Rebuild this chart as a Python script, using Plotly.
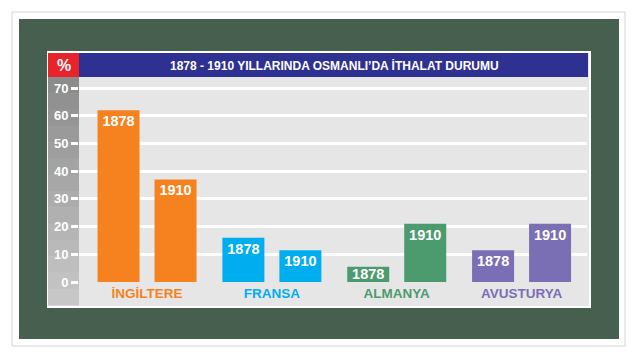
import plotly.graph_objects as go

# ---- data ----
categories = ["İNGİLTERE", "FRANSA", "ALMANYA", "AVUSTURYA"]
values_1878 = [62, 16, 5.5, 11.5]
values_1910 = [37, 11.5, 21, 21]
year_labels = ["1878", "1910"]
cat_colors = ["#f5821f", "#00aeef", "#4c9b6e", "#7a6eb5"]
y_ticks = [0, 10, 20, 30, 40, 50, 60, 70]
title_text = "1878 - 1910 YILLARINDA OSMANLI’DA İTHALAT DURUMU"

# ---- geometry (page pixels; the page body has an 8px margin) ----
OFF = 8
W, H = 638 - OFF, 359 - OFF
L, R, T, B = 79, 587, 77, 283
PW, PH = R - L, B - T


def xp(px):
    return (px - L) / PW


def yp(py):
    return (B - py) / PH


FONT = "Liberation Sans, Arial, sans-serif"
TXT = dict(family=FONT, size=14.5, color="white", weight="bold")
SMALL = 8  # bars shorter than this get their label centred

fig = go.Figure()
for yl, vals in zip(year_labels, [values_1878, values_1910]):
    fig.add_trace(go.Bar(
        x=categories, y=vals, name=yl, offsetgroup=yl,
        marker=dict(color=cat_colors, line=dict(width=0)),
        text=[yl if v >= SMALL else "" for v in vals],
        textposition="inside", insidetextanchor="end",
        constraintext="none", textfont=TXT,
        hoverinfo="skip",
    ))
    small = [(c, v) for c, v in zip(categories, vals) if v < SMALL]
    if small:
        fig.add_trace(go.Bar(
            x=[c for c, _ in small], y=[v for _, v in small], name=yl,
            offsetgroup=yl,
            marker=dict(color="rgba(0,0,0,0)", line=dict(width=0)),
            text=[yl] * len(small),
            textposition="inside", insidetextanchor="middle",
            constraintext="none", textfont=TXT,
            hoverinfo="skip",
        ))

shapes = []
# outer light frame
shapes.append(dict(type="rect", xref="paper", yref="paper",
                   x0=xp(12), x1=xp(625), y0=yp(346), y1=yp(12),
                   fillcolor="white", line=dict(color="#d4d4d4", width=1), layer="below"))
# dark green panel
shapes.append(dict(type="rect", xref="paper", yref="paper",
                   x0=xp(19), x1=xp(619), y0=yp(339), y1=yp(19),
                   fillcolor="#475f4f", line=dict(width=0), layer="below"))
# chart light area with white border
shapes.append(dict(type="rect", xref="paper", yref="paper",
                   x0=xp(48), x1=xp(590), y0=yp(307), y1=yp(52),
                   fillcolor="#e6e6e6", line=dict(color="white", width=2), layer="below"))
# gray gradient strip
n = 14
top, bot = 77, 305
c0, c1 = 0x8a, 0xc9
for i in range(n):
    ya = top + (bot - top) * i / n
    yb = top + (bot - top) * (i + 1) / n
    c = int(round(c0 + (c1 - c0) * (i + 0.5) / n))
    col = "#%02x%02x%02x" % (c, c, c)
    shapes.append(dict(type="rect", xref="paper", yref="paper",
                       x0=xp(48), x1=xp(79), y0=yp(yb + 0.5), y1=yp(ya),
                       fillcolor=col, line=dict(width=0), layer="below"))
# title bar
shapes.append(dict(type="rect", xref="paper", yref="paper",
                   x0=xp(48), x1=xp(79), y0=yp(77), y1=yp(53),
                   fillcolor="#e8232a", line=dict(width=0), layer="below"))
shapes.append(dict(type="rect", xref="paper", yref="paper",
                   x0=xp(79), x1=xp(588), y0=yp(77), y1=yp(53),
                   fillcolor="#2e3192", line=dict(width=0), layer="below"))

annotations = [
    dict(text=title_text, xref="paper", yref="paper", x=xp(334), y=yp(65.5),
         xanchor="center", yanchor="middle", showarrow=False,
         font=dict(family=FONT, size=12, color="white", weight="bold")),
    dict(text="%", xref="paper", yref="paper", x=xp(63.5), y=yp(65.5),
         xanchor="center", yanchor="middle", showarrow=False,
         font=dict(family=FONT, size=16, color="white", weight="bold")),
]

ticktext = ['<span style="color:%s">%s</span>' % (c, t) for c, t in zip(cat_colors, categories)]

fig.update_layout(
    width=W, height=H,
    margin=dict(l=L - OFF, r=638 - R, t=T - OFF, b=359 - B, pad=0),
    paper_bgcolor="white", plot_bgcolor="rgba(0,0,0,0)",
    barmode="group", bargap=0.087, bargroupgap=0.263,
    showlegend=False,
    shapes=shapes, annotations=annotations,
    font=dict(family=FONT),
    xaxis=dict(type="category", range=[-0.545, 3.524], showgrid=False, zeroline=False,
               showline=False, ticks="", tickvals=categories, ticktext=ticktext,
               tickfont=dict(family=FONT, size=13.5, weight="bold"), fixedrange=True),
    yaxis=dict(range=[-0.36, 73.97], tickvals=y_ticks, showgrid=True, gridcolor="white",
               gridwidth=2.5, zeroline=False, showline=False, ticks="outside",
               ticklen=7, tickwidth=2.5, tickcolor="white",
               tickfont=dict(family=FONT, size=13, color="white", weight="bold"),
               fixedrange=True),
)

fig.write_html("out.html")
